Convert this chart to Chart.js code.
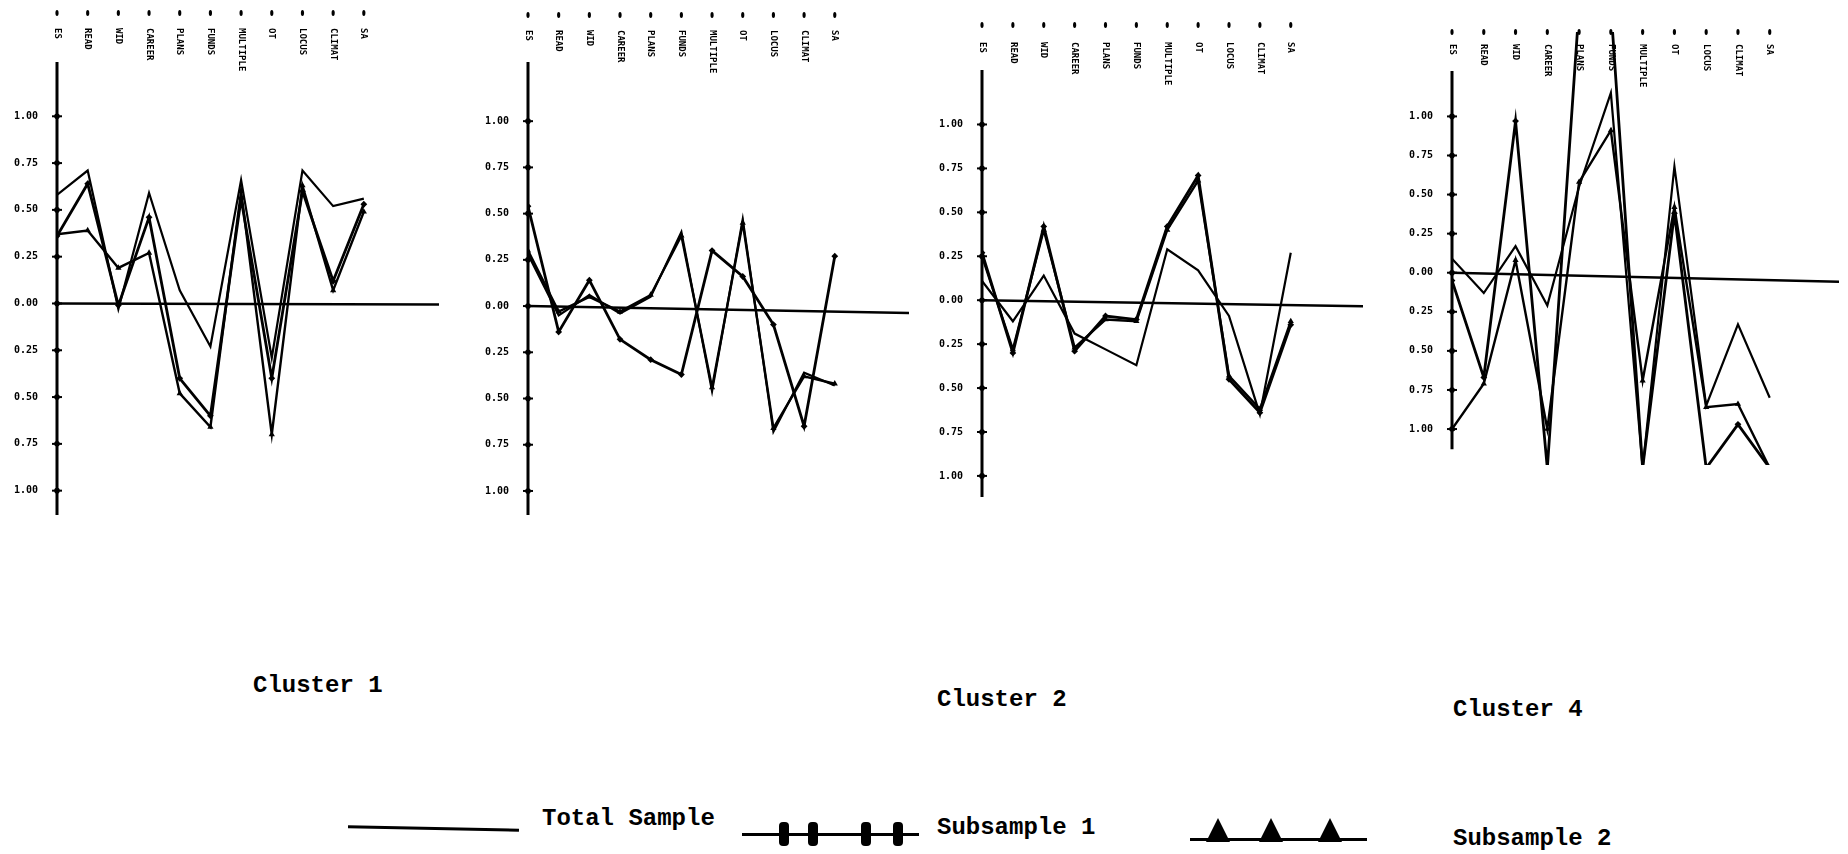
<!DOCTYPE html>
<html>
<head>
<meta charset="utf-8">
<script src="https://cdn.jsdelivr.net/npm/chart.js@4.4.1/dist/chart.umd.min.js"></script>
<style>
  body { margin: 0; background: #fff; width: 1848px; height: 854px; overflow: hidden; position: relative;
         font-family: 'Liberation Mono', 'DejaVu Sans Mono', monospace; color: #000; }
  .panel { position: absolute; top: 0; height: 540px; }
  .title { position: absolute; font-weight: bold; font-size: 24px; line-height: 24px; white-space: nowrap; }
  .lg-text { position: absolute; font-weight: bold; font-size: 24px; line-height: 24px; white-space: nowrap; }
  .lg-line { position: absolute; height: 3px; background: #000; }
  .lg-bar { position: absolute; width: 10px; height: 24px; background: #000; border-radius: 4px; }
  .lg-tri { position: absolute; width: 0; height: 0; border-left: 12px solid transparent;
            border-right: 12px solid transparent; border-bottom: 24px solid #000; }
</style>
</head>
<body>
<div class="panel" id="p1"><canvas id="c1"></canvas></div>
<div class="panel" id="p2"><canvas id="c2"></canvas></div>
<div class="panel" id="p3"><canvas id="c3"></canvas></div>
<div class="panel" id="p4"><canvas id="c4"></canvas></div>
<script>
// variable names along the top of each profile (hard to read in the scan)
const categories = ['ES', 'READ', 'WID', 'CAREER', 'PLANS', 'FUNDS', 'MULTIPLE', 'OT', 'LOCUS', 'CLIMAT', 'SA'];
const yTickValues = [1, 0.75, 0.5, 0.25, 0, -0.25, -0.5, -0.75, -1];
const seriesNames = ['Total Sample', 'Subsample 1', 'Subsample 2'];
const panelTitles = ['Cluster 1', '', 'Cluster 2', 'Cluster 4'];

// cluster 1
const c1Total = [0.58, 0.71, -0.03, 0.59, 0.07, -0.23, 0.66, -0.29, 0.71, 0.52, 0.56];
const c1Sub1  = [0.36, 0.64, -0.01, 0.46, -0.40, -0.60, 0.56, -0.40, 0.60, 0.12, 0.53];
const c1Sub2  = [0.37, 0.39, 0.19, 0.27, -0.48, -0.66, 0.60, -0.70, 0.63, 0.07, 0.49];
// second panel (no caption)
const c3Total = [0.28, -0.05, 0.06, -0.04, 0.05, 0.40, -0.46, 0.47, -0.68, -0.36, -0.43];
const c3Sub1  = [0.54, -0.14, 0.14, -0.18, -0.29, -0.37, 0.30, 0.16, -0.10, -0.65, 0.27];
const c3Sub2  = [0.30, -0.03, 0.05, -0.03, 0.06, 0.38, -0.44, 0.45, -0.66, -0.38, -0.42];
// cluster 2
const c2Total = [0.11, -0.12, 0.14, -0.19, -0.28, -0.37, 0.29, 0.17, -0.09, -0.65, 0.27];
const c2Sub1  = [0.27, -0.30, 0.42, -0.29, -0.09, -0.11, 0.42, 0.71, -0.45, -0.64, -0.14];
const c2Sub2  = [0.25, -0.28, 0.40, -0.27, -0.11, -0.12, 0.40, 0.68, -0.43, -0.62, -0.12];
// cluster 4 (some lines run off the plot)
const c4Total = [0.09, -0.13, 0.17, -0.21, 0.55, 1.15, -1.25, 0.68, -0.85, -0.33, -0.80];
const c4Sub1  = [-0.05, -0.67, 0.97, -1.25, 1.70, 1.70, -1.25, 0.38, -1.25, -0.97, -1.25];
const c4Sub2  = [-1.00, -0.71, 0.08, -1.00, 0.58, 0.91, -0.69, 0.42, -0.86, -0.84, -1.25];

const panels = [
  { id: 'c1', left: 1,    width: 442, padTop: 62, padBottom: 22, yMin: -1.13, yMax: 1.29, xMax: 12.45,
    axis: [-1.13, 1.29], tilt: 1, dotY: 13, labelY: 28, series: [c1Total, c1Sub1, c1Sub2], tx: 253, ty: 674 },
  { id: 'c2', left: 472,  width: 441, padTop: 62, padBottom: 22, yMin: -1.13, yMax: 1.32, xMax: 12.42,
    axis: [-1.13, 1.32], tilt: 7, dotY: 15, labelY: 30, series: [c3Total, c3Sub1, c3Sub2] },
  { id: 'c3', left: 926,  width: 441, padTop: 70, padBottom: 43, yMin: -1.12, yMax: 1.31, xMax: 12.34,
    axis: [-1.12, 1.31], tilt: 6, dotY: 25, labelY: 42, series: [c2Total, c2Sub1, c2Sub2], tx: 937, ty: 688 },
  { id: 'c4', left: 1396, width: 447, padTop: 32, padBottom: 75, yMin: -1.23, yMax: 1.54, xMax: 12.18,
    axis: [-1.13, 1.29], tilt: 9, dotY: 32, labelY: 44, series: [c4Total, c4Sub1, c4Sub2], tx: 1453, ty: 698 }
];

// axis line, tick marks, zero line and the vertical variable names
const profilePlugin = {
  id: 'profile',
  beforeDatasetsDraw(chart, args, opts) {
    const ctx = chart.ctx;
    const xs = chart.scales.x, ys = chart.scales.y;
    const ax = xs.getPixelForValue(0);
    const y0 = ys.getPixelForValue(0);
    ctx.save();
    ctx.strokeStyle = '#000';
    ctx.fillStyle = '#000';
    ctx.lineWidth = 3;
    ctx.beginPath();
    ctx.moveTo(ax, ys.getPixelForValue(opts.axis[1]));
    ctx.lineTo(ax, ys.getPixelForValue(opts.axis[0]));
    ctx.stroke();
    // the baseline in the scan runs slightly downhill
    ctx.lineWidth = 2.5;
    ctx.beginPath();
    ctx.moveTo(ax, y0);
    ctx.lineTo(chart.chartArea.right, y0 + opts.tilt);
    ctx.stroke();
    ctx.lineWidth = 2;
    yTickValues.forEach(v => {
      const y = ys.getPixelForValue(v);
      ctx.beginPath();
      ctx.moveTo(ax - 5, y);
      ctx.lineTo(ax + 5, y);
      ctx.stroke();
      ctx.beginPath();
      ctx.arc(ax, y, 2.8, 0, Math.PI * 2);
      ctx.fill();
    });
    ctx.font = 'bold 9px "DejaVu Sans Mono"';
    ctx.textAlign = 'left';
    ctx.textBaseline = 'middle';
    categories.forEach((c, i) => {
      const x = xs.getPixelForValue(i);
      ctx.beginPath();
      ctx.ellipse(x, opts.dotY, 1.6, 3, 0, 0, Math.PI * 2);
      ctx.fill();
      ctx.save();
      ctx.translate(x, opts.labelY);
      ctx.rotate(Math.PI / 2);
      ctx.fillText(c, 0, 0);
      ctx.restore();
    });
    ctx.restore();
  }
};

const styles = [
  { borderWidth: 2.2, pointRadius: 0 },
  { borderWidth: 2.8, pointRadius: 3.4, pointStyle: 'rectRot' },
  { borderWidth: 2.4, pointRadius: 3.6, pointStyle: 'triangle' }
];

panels.forEach((p, n) => {
  const box = document.getElementById(p.id).parentNode;
  box.style.left = p.left + 'px';
  box.style.width = p.width + 'px';
  new Chart(document.getElementById(p.id), {
    type: 'line',
    data: {
      datasets: p.series.map((vals, k) => ({
        label: seriesNames[k],
        data: vals.map((v, i) => ({ x: i, y: v })),
        borderColor: '#000',
        backgroundColor: '#000',
        pointBackgroundColor: '#000',
        pointBorderWidth: 0,
        tension: 0,
        fill: false,
        ...styles[k]
      }))
    },
    options: {
      responsive: true,
      maintainAspectRatio: false,
      animation: false,
      layout: { padding: { top: p.padTop, bottom: p.padBottom, left: 0, right: 0 } },
      plugins: {
        legend: { display: false },
        tooltip: { enabled: false },
        profile: { axis: p.axis, tilt: p.tilt, dotY: p.dotY, labelY: p.labelY }
      },
      scales: {
        x: { type: 'linear', display: false, min: 0, max: p.xMax },
        y: {
          type: 'linear', min: p.yMin, max: p.yMax,
          grid: { display: false, drawTicks: false },
          border: { display: false },
          afterBuildTicks: s => { s.ticks = yTickValues.map(v => ({ value: v })); },
          afterFit: s => { s.width = 56; },
          ticks: {
            padding: 19,
            color: '#000',
            font: { family: 'DejaVu Sans Mono', size: 10, weight: 'bold' },
            callback: v => Math.abs(v).toFixed(2)
          }
        }
      }
    },
    plugins: [profilePlugin]
  });
  if (panelTitles[n]) {
    const t = document.createElement('div');
    t.className = 'title';
    t.textContent = panelTitles[n];
    t.style.left = p.tx + 'px';
    t.style.top = p.ty + 'px';
    document.body.appendChild(t);
  }
});

// legend along the bottom
function add(cls, css, text) {
  const d = document.createElement('div');
  d.className = cls;
  Object.assign(d.style, css);
  if (text) d.textContent = text;
  document.body.appendChild(d);
}
add('lg-line', { left: '348px', top: '827px', width: '171px', transform: 'rotate(1.2deg)' });
add('lg-text', { left: '542px', top: '807px' }, seriesNames[0]);
add('lg-line', { left: '742px', top: '833px', width: '177px' });
[784, 813, 866, 898].forEach(x => add('lg-bar', { left: (x - 5) + 'px', top: '822px' }));
add('lg-text', { left: '937px', top: '816px' }, seriesNames[1]);
add('lg-line', { left: '1190px', top: '838px', width: '177px' });
[1218, 1271, 1330].forEach(x => add('lg-tri', { left: (x - 12) + 'px', top: '818px' }));
add('lg-text', { left: '1453px', top: '827px' }, seriesNames[2]);
</script>
</body>
</html>
